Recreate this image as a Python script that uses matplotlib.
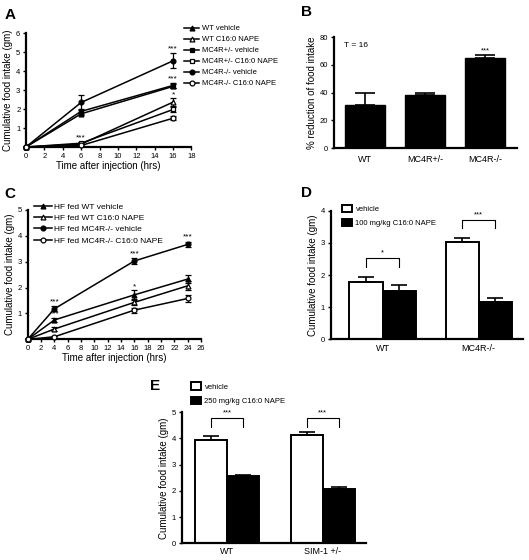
import numpy as np
import matplotlib
matplotlib.use("Agg")
import matplotlib.pyplot as plt
from matplotlib.lines import Line2D

plt.rcParams['font.family'] = ['Liberation Sans', 'DejaVu Sans']

# ---- panel A data ----
a_time = [0, 6, 16]
a_labels = ["WT vehicle", "WT C16:0 NAPE", "MC4R+/- vehicle", "MC4R+/- C16:0 NAPE",
            "MC4R-/- vehicle", "MC4R-/- C16:0 NAPE"]
a_wt_veh = [0, 1.75, 3.20]
a_wt_veh_err = [0, 0.08, 0.10]
a_wt_nape = [0, 0.15, 2.37]
a_wt_nape_err = [0, 0.04, 0.22]
a_het_veh = [0, 1.88, 3.25]
a_het_veh_err = [0, 0.15, 0.14]
a_het_nape = [0, 0.20, 1.98]
a_het_nape_err = [0, 0.05, 0.15]
a_ko_veh = [0, 2.35, 4.55]
a_ko_veh_err = [0, 0.38, 0.40]
a_ko_nape = [0, 0.08, 1.52]
a_ko_nape_err = [0, 0.03, 0.10]

# ---- panel B data ----
b_groups = ["WT", "MC4R+/-", "MC4R-/-"]
b_reduction = [31, 38, 65]
b_err = [8.5, 2.0, 1.8]

# ---- panel C data ----
c_time = [0, 4, 16, 24]
c_labels = ["HF fed WT vehicle", "HF fed WT C16:0 NAPE", "HF fed MC4R-/- vehicle",
            "HF fed MC4R-/- C16:0 NAPE"]
c_wt_veh = [0, 0.75, 1.72, 2.33]
c_wt_veh_err = [0, 0.06, 0.18, 0.15]
c_wt_nape = [0, 0.40, 1.43, 2.07]
c_wt_nape_err = [0, 0.06, 0.12, 0.18]
c_ko_veh = [0, 1.18, 3.03, 3.67]
c_ko_veh_err = [0, 0.10, 0.10, 0.10]
c_ko_nape = [0, 0.10, 1.13, 1.58]
c_ko_nape_err = [0, 0.04, 0.10, 0.13]

# ---- panel D data ----
d_groups = ["WT", "MC4R-/-"]
d_vehicle = [1.79, 3.04]
d_vehicle_err = [0.14, 0.12]
d_nape = [1.49, 1.17]
d_nape_err = [0.20, 0.13]

# ---- panel E data ----
e_groups = ["WT", "SIM-1 +/-"]
e_vehicle = [3.94, 4.12]
e_vehicle_err = [0.15, 0.11]
e_nape = [2.55, 2.09]
e_nape_err = [0.05, 0.05]

fig = plt.figure(figsize=(5.29, 5.6), dpi=100)

TICK = 5.5
LAB = 7
LW = 1.1


def style(ax):
    for s in ['top', 'right']:
        ax.spines[s].set_visible(False)
    for s in ['left', 'bottom']:
        ax.spines[s].set_linewidth(1.6)
    ax.tick_params(direction='out', length=2.5, width=1.0, labelsize=TICK, pad=1.5)


def line(ax, x, y, e, marker, filled):
    ax.errorbar(x, y, yerr=e, color='black', lw=LW, marker=marker, ms=3.5,
                mfc='black' if filled else 'white', mec='black', mew=0.9,
                capsize=2.2, elinewidth=0.9, capthick=0.9, clip_on=False, zorder=3)
    return Line2D([], [], color='black', lw=LW, marker=marker, ms=3.5,
                  mfc='black' if filled else 'white', mec='black', mew=0.9)


# ---------------- A ----------------
axA = fig.add_axes([0.049, 0.7375, 0.313, 0.203])
style(axA)
hA = [line(axA, a_time, a_wt_veh, a_wt_veh_err, '^', True),
      line(axA, a_time, a_wt_nape, a_wt_nape_err, '^', False),
      line(axA, a_time, a_het_veh, a_het_veh_err, 's', True),
      line(axA, a_time, a_het_nape, a_het_nape_err, 's', False),
      line(axA, a_time, a_ko_veh, a_ko_veh_err, 'o', True),
      line(axA, a_time, a_ko_nape, a_ko_nape_err, 'o', False)]
axA.set_xlim(0, 18)
axA.set_ylim(0, 6)
axA.set_xticks(range(0, 19, 2))
axA.set_yticks(range(0, 7))
axA.set_yticklabels([''] + [str(i) for i in range(1, 7)])
axA.set_xlabel("Time after injection (hrs)", fontsize=LAB, labelpad=1)
axA.set_ylabel("Cumulative food intake (gm)", fontsize=LAB, labelpad=2)
axA.text(16, 4.98, "***", ha='center', va='bottom', fontsize=6)
axA.text(16, 3.42, "***", ha='center', va='bottom', fontsize=6)
axA.text(16, 2.55, "*", ha='center', va='bottom', fontsize=6)
axA.text(6, 0.27, "***", ha='center', va='bottom', fontsize=6)
fig.legend(hA, a_labels, loc='upper left', bbox_to_anchor=(0.338, 0.965), frameon=False,
           fontsize=5.5, handlelength=2.0, labelspacing=0.48, handletextpad=0.4,
           borderpad=0.2)

# ---------------- B ----------------
axB = fig.add_axes([0.631, 0.7357, 0.346, 0.198])
style(axB)
xb = np.arange(len(b_groups))
axB.bar(xb, b_reduction, width=0.68, color='black', edgecolor='black',
        yerr=[[0] * len(b_err), b_err], capsize=7,
        error_kw=dict(elinewidth=1.2, capthick=1.2, ecolor='black'))
axB.set_xlim(-0.52, 2.53)
axB.set_ylim(0, 80)
axB.set_yticks(range(0, 81, 20))
axB.set_xticks(xb)
axB.set_xticklabels(b_groups, fontsize=6.5)
axB.tick_params(axis='x', length=0, pad=5)
axB.set_ylabel("% reduction of food intake", fontsize=LAB, labelpad=2)
axB.text(-0.35, 74, "T = 16", fontsize=6, va='center')
axB.text(2, b_reduction[2] + b_err[2] + 0.5, "***", ha='center', va='bottom', fontsize=5.5)

# ---------------- C ----------------
axC = fig.add_axes([0.0524, 0.394, 0.3276, 0.231])
style(axC)
hC = [line(axC, c_time, c_wt_veh, c_wt_veh_err, '^', True),
      line(axC, c_time, c_wt_nape, c_wt_nape_err, '^', False),
      line(axC, c_time, c_ko_veh, c_ko_veh_err, 'o', True),
      line(axC, c_time, c_ko_nape, c_ko_nape_err, 'o', False)]
axC.set_xlim(0, 26)
axC.set_ylim(0, 5)
axC.set_xticks(range(0, 27, 2))
axC.set_yticks(range(0, 6))
axC.set_yticklabels([''] + [str(i) for i in range(1, 6)])
axC.set_xlabel("Time after injection (hrs)", fontsize=LAB, labelpad=1)
axC.set_ylabel("Cumulative food intake (gm)", fontsize=LAB, labelpad=2)
axC.text(4, 1.33, "***", ha='center', va='bottom', fontsize=6)
axC.text(4, 0.85, "***", ha='center', va='bottom', fontsize=6)
axC.text(16, 3.18, "***", ha='center', va='bottom', fontsize=6)
axC.text(16, 1.9, "*", ha='center', va='bottom', fontsize=6)
axC.text(24, 3.82, "***", ha='center', va='bottom', fontsize=6)
axC.legend(hC, c_labels, loc='upper left', bbox_to_anchor=(0.0, 1.1), frameon=False, fontsize=6,
           handlelength=2.2, labelspacing=0.42, handletextpad=0.3, borderpad=0.2)

# ---------------- D / E bars ----------------
def grouped(ax, groups, veh, veh_err, nape, nape_err, w, ylim, leg_label, bra, bra_star):
    style(ax)
    x = np.arange(len(groups))
    ax.bar(x - w / 2, veh, width=w, color='white', edgecolor='black', linewidth=1.4,
           yerr=[[0] * len(veh), veh_err], capsize=6, label='vehicle',
           error_kw=dict(elinewidth=1.2, capthick=1.2, ecolor='black'))
    ax.bar(x + w / 2, nape, width=w, color='black', edgecolor='black', linewidth=1.4,
           yerr=[[0] * len(nape), nape_err], capsize=6, label=leg_label,
           error_kw=dict(elinewidth=1.2, capthick=1.2, ecolor='black'))
    ax.set_ylim(0, ylim)
    ax.set_yticks(range(0, ylim + 1))
    ax.set_xticks(x)
    ax.set_xticklabels(groups, fontsize=6.5)
    ax.tick_params(axis='x', length=0, pad=3)
    ax.set_ylabel("Cumulative food intake (gm)", fontsize=LAB, labelpad=2)
    for xi, (lo, hi), star in zip(x, bra, bra_star):
        ax.plot([xi - w / 2, xi - w / 2, xi + w / 2, xi + w / 2], [lo, hi, hi, lo],
                color='black', lw=0.8)
        ax.text(xi, hi + 0.05, star, ha='center', va='bottom', fontsize=5.5)
    return x


axD = fig.add_axes([0.625, 0.394, 0.3635, 0.2296])
grouped(axD, d_groups, d_vehicle, d_vehicle_err, d_nape, d_nape_err, 0.344, 4,
        "100 mg/kg C16:0 NAPE", [(2.26, 2.52), (3.45, 3.71)], ["*", "***"])
axD.set_xlim(-0.54, 1.46)
axD.legend(loc='upper left', bbox_to_anchor=(0.03, 1.09), frameon=False, fontsize=5.5,
           handlelength=1.3, handleheight=1.1, labelspacing=0.8, handletextpad=0.5,
           borderpad=0.2)

axE = fig.add_axes([0.3435, 0.0298, 0.348, 0.234])
grouped(axE, e_groups, e_vehicle, e_vehicle_err, e_nape, e_nape_err, 0.333, 5,
        "250 mg/kg C16:0 NAPE", [(4.45, 4.80), (4.45, 4.80)], ["***", "***"])
axE.set_xlim(-0.475, 1.45)
axE.legend(loc='upper left', bbox_to_anchor=(0.02, 1.27), frameon=False, fontsize=5.5,
           handlelength=1.3, handleheight=1.1, labelspacing=0.8, handletextpad=0.5,
           borderpad=0.2)

# panel letters
for txt, x, y in [("A", 10, 15), ("B", 306, 12), ("C", 10, 194), ("D", 306, 193), ("E", 155, 386)]:
    fig.text(x / 529, 1 - y / 560, txt, fontsize=11, fontweight='bold', ha='center', va='center')

fig.savefig("out.png", dpi=100)
